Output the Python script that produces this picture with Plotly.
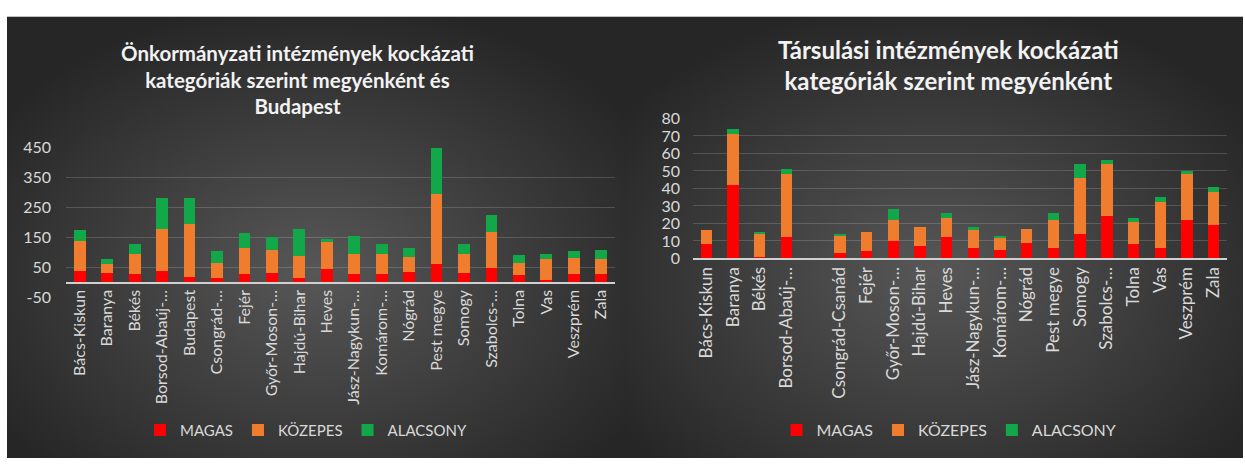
import base64
import plotly.graph_objects as go

W, H = 1245, 467

# ---------------- data ----------------
left_categories = ["Bács-Kiskun", "Baranya", "Békés", "Borsod-Abaúj-…", "Budapest", "Csongrád-…",
                   "Fejér", "Győr-Moson-…", "Hajdú-Bihar", "Heves", "Jász-Nagykun-…", "Komárom-…",
                   "Nógrád", "Pest megye", "Somogy", "Szabolcs-…", "Tolna", "Vas", "Veszprém", "Zala"]
left_magas = [38, 33, 28, 38, 20, 16, 28, 32, 16, 46, 28, 28, 35, 62, 32, 48, 25, 9, 29, 29]
left_kozepes = [102, 30, 69, 140, 174, 51, 88, 78, 73, 88, 66, 66, 51, 234, 62, 119, 42, 69, 53, 51]
left_alacsony = [34, 17, 31, 103, 87, 39, 49, 43, 89, 10, 61, 36, 30, 152, 34, 58, 26, 18, 25, 29]

right_categories = ["Bács-Kiskun", "Baranya", "Békés", "Borsod-Abaúj-…", " ", "Csongrád-Csanád",
                    "Fejér", "Győr-Moson-…", "Hajdú-Bihar", "Heves", "Jász-Nagykun-…", "Komárom-…",
                    "Nógrád", "Pest megye", "Somogy", "Szabolcs-…", "Tolna", "Vas", "Veszprém", "Zala"]
right_magas = [8, 42, 1, 12, None, 3, 4, 10, 7, 12, 6, 5, 9, 6, 14, 24, 8, 6, 22, 19]
right_kozepes = [8, 29, 13, 36, None, 10, 11, 12, 11, 11, 10, 7, 8, 16, 32, 30, 13, 26, 26, 19]
right_alacsony = [0, 3, 1, 3, None, 1, 0, 6, 0, 3, 2, 1, 0, 4, 8, 2, 2, 3, 2, 3]

series_names = ["MAGAS", "KÖZEPES", "ALACSONY"]
series_colors = ["#ff0000", "#f07c2e", "#12a84a"]

left_title = "Önkormányzati intézmények kockázati<br>kategóriák szerint megyénként és<br>Budapest"
right_title = "Társulási intézmények kockázati<br>kategóriák szerint megyénként"

left_ticks = [-50, 50, 150, 250, 350, 450]
left_ticktext = ["-50", "50", "150", "250", "350", "450"]
right_ticks = [0, 10, 20, 30, 40, 50, 60, 70, 80]

FONT = "Lato"
TXT = "#d9d9d9"


def px_x(p):
    return p / W


def px_y(p):
    return (H - p) / H


# ---------------- background (gradient panels) ----------------
svg = f"""<svg xmlns='http://www.w3.org/2000/svg' width='{W}' height='{H}' viewBox='0 0 {W} {H}' preserveAspectRatio='none'>
<defs><radialGradient id='g' cx='50%' cy='58%' r='62%'>
<stop offset='0' stop-color='#575757'/><stop offset='0.55' stop-color='#3c3c3c'/><stop offset='1' stop-color='#262626'/>
</radialGradient></defs>
<rect x='0' y='0' width='{W}' height='{H}' fill='#ffffff'/>
<rect x='7' y='7' width='618' height='460' fill='url(#g)'/>
<rect x='625' y='7' width='618' height='460' fill='url(#g)'/>
</svg>"""
svg_uri = "data:image/svg+xml;base64," + base64.b64encode(svg.encode("utf-8")).decode()

fig = go.Figure()

for name, color, vals in zip(series_names, series_colors, [left_magas, left_kozepes, left_alacsony]):
    fig.add_trace(go.Bar(x=left_categories, y=vals, name=name, marker=dict(color=color, line=dict(width=0)),
                         xaxis="x", yaxis="y", legend="legend"))
for name, color, vals in zip(series_names, series_colors, [right_magas, right_kozepes, right_alacsony]):
    fig.add_trace(go.Bar(x=right_categories, y=vals, name=name, marker=dict(color=color, line=dict(width=0)),
                         xaxis="x2", yaxis="y2", legend="legend2"))

# left plot area: x 66..615, y 143(450)..300(-50)
ly0, ly1 = px_y(300), px_y(143)
zero_pos = px_y(300 - 50 * (157 / 500))
# right plot area: x 693..1227, y 113(80)..259(0)
ry0, ry1 = px_y(259), px_y(113)

fig.update_layout(
    width=W, height=H,
    margin=dict(l=0, r=0, t=0, b=0),
    paper_bgcolor="#ffffff",
    plot_bgcolor="rgba(0,0,0,0)",
    barmode="stack",
    bargap=0.57,
    images=[dict(source=svg_uri, xref="paper", yref="paper", x=0, y=1, sizex=1, sizey=1,
                 sizing="stretch", xanchor="left", yanchor="top", layer="below")],
    xaxis=dict(domain=[px_x(66), px_x(615)], anchor="free", position=zero_pos,
               type="category", tickangle=-90, tickfont=dict(family=FONT, size=16, color=TXT),
               showline=True, linecolor="#d0d0d0", linewidth=1.5, showgrid=False, ticks=""),
    yaxis=dict(domain=[ly0, ly1], anchor="x", range=[-50, 450], tickvals=left_ticks, ticktext=left_ticktext,
               tickfont=dict(family=FONT, size=16, color=TXT), showgrid=True,
               gridcolor="rgba(255,255,255,0.16)", gridwidth=1,
               zeroline=False, showline=False, ticks="", ticklabelstandoff=14),
    xaxis2=dict(domain=[px_x(693), px_x(1227)], anchor="y2",
                type="category", tickangle=-90, tickfont=dict(family=FONT, size=17, color=TXT),
                showline=True, linecolor="#d0d0d0", linewidth=1.5, showgrid=False, ticks=""),
    yaxis2=dict(domain=[ry0, ry1], anchor="x2", range=[0, 80], tickvals=right_ticks,
                tickfont=dict(family=FONT, size=16, color=TXT), showgrid=True,
                gridcolor="rgba(255,255,255,0.16)", gridwidth=1,
                zeroline=False, showline=False, ticks="", ticklabelstandoff=12),
    legend=dict(orientation="h", x=px_x(306), xanchor="center", y=px_y(438), yanchor="middle",
                font=dict(family=FONT, size=15, color=TXT), bgcolor="rgba(0,0,0,0)",
                itemwidth=30, traceorder="normal"),
    legend2=dict(orientation="h", x=px_x(949), xanchor="center", y=px_y(438), yanchor="middle",
                 font=dict(family=FONT, size=16, color=TXT), bgcolor="rgba(0,0,0,0)",
                 itemwidth=30, traceorder="normal"),
    annotations=[
        dict(text=left_title, xref="paper", yref="paper", x=px_x(297), y=px_y(30), xanchor="center",
             yanchor="top", showarrow=False, align="center",
             font=dict(family=FONT, size=20.5, color="#f2f2f2", weight="bold")),
        dict(text=right_title, xref="paper", yref="paper", x=px_x(948), y=px_y(24), xanchor="center",
             yanchor="top", showarrow=False, align="center",
             font=dict(family=FONT, size=24, color="#f2f2f2", weight="bold")),
    ],
)

post = ("document.body.style.margin='0px';document.body.style.overflow='hidden';"
        "var d=document.getElementById('{plot_id}');d.style.position='fixed';"
        "d.style.left='0px';d.style.top='0px';")
fig.write_html("out.html", config={"displayModeBar": False}, post_script=post)
